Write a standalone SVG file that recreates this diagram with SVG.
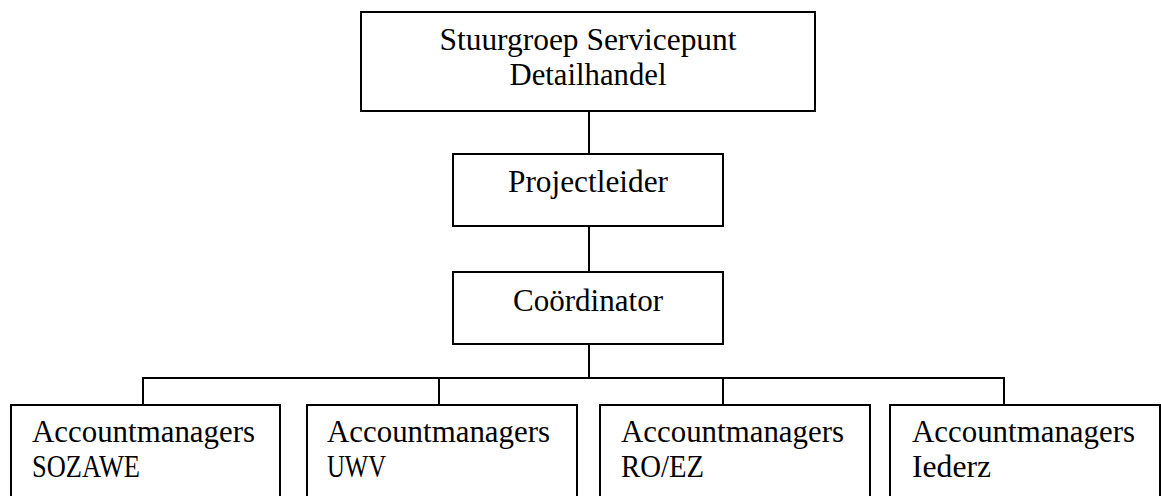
<svg xmlns="http://www.w3.org/2000/svg" width="1161" height="496" viewBox="0 0 1161 496">
<style>
.box{fill:#fff;stroke:#000;stroke-width:2}
.ln{fill:none;stroke:#000;stroke-width:2}
text{font-family:"Liberation Serif","DejaVu Serif",serif;font-size:31px;fill:#000}
.c{text-anchor:middle}
</style>
<rect width="1161" height="496" fill="#fff"/>
<g id="connectors">
<line class="ln" x1="589" y1="111" x2="589" y2="154"/>
<line class="ln" x1="589" y1="226" x2="589" y2="272"/>
<line class="ln" x1="589" y1="344" x2="589" y2="378"/>
<polyline class="ln" points="143,405 143,378 1004,378 1004,405"/>
<line class="ln" x1="439" y1="378" x2="439" y2="405"/>
<line class="ln" x1="723" y1="378" x2="723" y2="405"/>
</g>
<g id="stuurgroep">
<rect class="box" x="361" y="12" width="454" height="99"/>
<text class="c" x="588" y="50" textLength="297" lengthAdjust="spacingAndGlyphs">Stuurgroep Servicepunt</text>
<text class="c" x="588" y="85" textLength="157" lengthAdjust="spacingAndGlyphs">Detailhandel</text>
</g>
<g id="projectleider">
<rect class="box" x="453" y="154" width="270" height="72"/>
<text class="c" x="588" y="192" textLength="160" lengthAdjust="spacingAndGlyphs">Projectleider</text>
</g>
<g id="coordinator">
<rect class="box" x="453" y="272" width="270" height="72"/>
<text class="c" x="588" y="311" textLength="150" lengthAdjust="spacingAndGlyphs">Coördinator</text>
</g>
<g id="am-sozawe">
<rect class="box" x="11" y="405" width="269" height="100"/>
<text x="32" y="442" textLength="223" lengthAdjust="spacingAndGlyphs">Accountmanagers</text>
<text x="32" y="477" textLength="108" lengthAdjust="spacingAndGlyphs">SOZAWE</text>
</g>
<g id="am-uwv">
<rect class="box" x="307" y="405" width="270" height="100"/>
<text x="327" y="442" textLength="223" lengthAdjust="spacingAndGlyphs">Accountmanagers</text>
<text x="327" y="477" textLength="59" lengthAdjust="spacingAndGlyphs">UWV</text>
</g>
<g id="am-roez">
<rect class="box" x="600" y="405" width="270" height="100"/>
<text x="621" y="442" textLength="223" lengthAdjust="spacingAndGlyphs">Accountmanagers</text>
<text x="621" y="477" textLength="83" lengthAdjust="spacingAndGlyphs">RO/EZ</text>
</g>
<g id="am-iederz">
<rect class="box" x="890" y="405" width="270" height="100"/>
<text x="912" y="442" textLength="223" lengthAdjust="spacingAndGlyphs">Accountmanagers</text>
<text x="912" y="477" textLength="79" lengthAdjust="spacingAndGlyphs">Iederz</text>
</g>
</svg>
